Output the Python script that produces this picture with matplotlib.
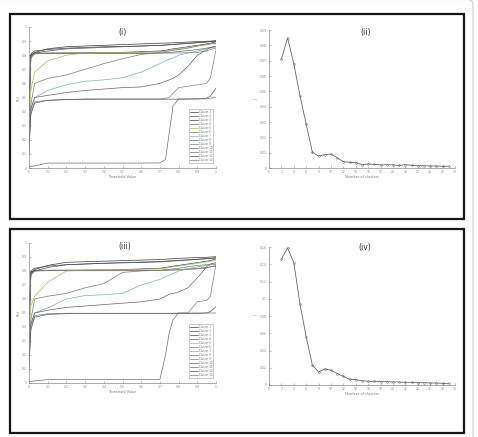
import matplotlib
matplotlib.use("Agg")
import matplotlib.pyplot as plt
from matplotlib.patches import Rectangle, FancyBboxPatch

W, H = 478, 437

# ---------------- data ----------------
thr = [0, 0.01, 0.03, 0.1, 0.2, 0.3, 0.4, 0.5, 0.6, 0.7, 0.73, 0.75, 0.77, 0.8, 0.85, 0.9, 0.95, 0.97, 1.0]
cluster_labels = ["Cluster %d" % k for k in range(1, 14)]

# panel (i)
c1_i = [0.40, 0.80, 0.82, 0.845, 0.86, 0.865, 0.87, 0.875, 0.88, 0.885, 0.886, 0.887, 0.888, 0.89, 0.893, 0.896, 0.899, 0.90, 0.903]
c2_i = [0.35, 0.79, 0.815, 0.83, 0.845, 0.85, 0.855, 0.86, 0.865, 0.87, 0.872, 0.874, 0.876, 0.878, 0.883, 0.888, 0.893, 0.896, 0.90]
c3_i = [0.45, 0.80, 0.815, 0.815, 0.816, 0.817, 0.818, 0.82, 0.825, 0.83, 0.835, 0.84, 0.845, 0.85, 0.86, 0.87, 0.88, 0.885, 0.895]
c4_i = [0.42, 0.78, 0.81, 0.812, 0.812, 0.812, 0.812, 0.812, 0.812, 0.815, 0.818, 0.82, 0.822, 0.826, 0.833, 0.84, 0.85, 0.855, 0.86]
c5_i = [0.30, 0.55, 0.68, 0.76, 0.80, 0.815, 0.82, 0.82, 0.82, 0.825, 0.83, 0.835, 0.84, 0.845, 0.855, 0.865, 0.875, 0.88, 0.885]
c6_i = [0.25, 0.45, 0.60, 0.635, 0.66, 0.70, 0.74, 0.775, 0.805, 0.82, 0.825, 0.83, 0.835, 0.84, 0.85, 0.865, 0.875, 0.88, 0.885]
c7_i = [0.20, 0.42, 0.50, 0.55, 0.59, 0.615, 0.625, 0.64, 0.68, 0.74, 0.76, 0.77, 0.78, 0.80, 0.815, 0.83, 0.845, 0.85, 0.86]
c8_i = [0.20, 0.42, 0.50, 0.515, 0.535, 0.55, 0.56, 0.57, 0.575, 0.60, 0.615, 0.625, 0.635, 0.66, 0.72, 0.80, 0.84, 0.855, 0.865]
c9_i = [0.15, 0.40, 0.47, 0.48, 0.485, 0.49, 0.49, 0.49, 0.49, 0.49, 0.495, 0.50, 0.53, 0.57, 0.58, 0.59, 0.60, 0.64, 0.84]
c10_i = [0.10, 0.38, 0.46, 0.48, 0.485, 0.487, 0.488, 0.488, 0.488, 0.488, 0.488, 0.488, 0.488, 0.488, 0.489, 0.49, 0.495, 0.51, 0.565]
c11_i = [0.01, 0.012, 0.015, 0.035, 0.035, 0.035, 0.035, 0.035, 0.035, 0.036, 0.06, 0.25, 0.44, 0.49, 0.49, 0.49, 0.49, 0.495, 0.50]
c12_i = [0.50, 0.81, 0.83, 0.84, 0.85, 0.855, 0.86, 0.862, 0.865, 0.87, 0.872, 0.875, 0.877, 0.88, 0.885, 0.89, 0.895, 0.897, 0.90]
c13_i = [0.38, 0.79, 0.81, 0.815, 0.815, 0.815, 0.815, 0.815, 0.815, 0.815, 0.815, 0.815, 0.815, 0.816, 0.818, 0.82, 0.83, 0.84, 0.85]

# panel (iii)
c1_iii = [0.40, 0.79, 0.81, 0.84, 0.862, 0.866, 0.87, 0.874, 0.878, 0.882, 0.884, 0.886, 0.888, 0.89, 0.893, 0.896, 0.898, 0.90, 0.902]
c2_iii = [0.35, 0.78, 0.80, 0.825, 0.845, 0.85, 0.855, 0.86, 0.864, 0.868, 0.87, 0.872, 0.874, 0.876, 0.88, 0.884, 0.888, 0.89, 0.893]
c3_iii = [0.45, 0.79, 0.805, 0.806, 0.806, 0.807, 0.808, 0.81, 0.815, 0.82, 0.825, 0.83, 0.835, 0.84, 0.85, 0.86, 0.87, 0.875, 0.886]
c4_iii = [0.42, 0.77, 0.80, 0.802, 0.802, 0.802, 0.802, 0.802, 0.803, 0.805, 0.806, 0.807, 0.808, 0.81, 0.815, 0.82, 0.825, 0.83, 0.833]
c5_iii = [0.30, 0.55, 0.62, 0.72, 0.80, 0.805, 0.81, 0.81, 0.812, 0.815, 0.82, 0.825, 0.83, 0.835, 0.845, 0.855, 0.865, 0.87, 0.875]
c6_iii = [0.25, 0.45, 0.60, 0.62, 0.64, 0.68, 0.71, 0.79, 0.80, 0.805, 0.81, 0.812, 0.815, 0.82, 0.83, 0.84, 0.845, 0.848, 0.85]
c7_iii = [0.20, 0.42, 0.50, 0.536, 0.60, 0.625, 0.63, 0.64, 0.70, 0.74, 0.76, 0.77, 0.78, 0.80, 0.815, 0.83, 0.84, 0.845, 0.85]
c8_iii = [0.20, 0.42, 0.50, 0.52, 0.54, 0.55, 0.56, 0.57, 0.58, 0.60, 0.62, 0.635, 0.64, 0.65, 0.68, 0.75, 0.83, 0.85, 0.86]
c9_iii = [0.15, 0.40, 0.48, 0.495, 0.498, 0.498, 0.498, 0.498, 0.498, 0.498, 0.498, 0.498, 0.498, 0.50, 0.50, 0.58, 0.59, 0.62, 0.85]
c10_iii = [0.10, 0.38, 0.47, 0.49, 0.495, 0.497, 0.497, 0.497, 0.497, 0.497, 0.497, 0.497, 0.497, 0.497, 0.497, 0.497, 0.50, 0.51, 0.545]
c11_iii = [0.01, 0.012, 0.015, 0.024, 0.024, 0.024, 0.024, 0.024, 0.024, 0.025, 0.20, 0.36, 0.45, 0.50, 0.50, 0.50, 0.50, 0.50, 0.50]
c12_iii = [0.50, 0.80, 0.82, 0.835, 0.845, 0.85, 0.855, 0.858, 0.861, 0.865, 0.867, 0.869, 0.871, 0.874, 0.878, 0.883, 0.888, 0.89, 0.895]
c13_iii = [0.38, 0.78, 0.80, 0.805, 0.805, 0.805, 0.805, 0.805, 0.805, 0.805, 0.805, 0.805, 0.806, 0.807, 0.81, 0.815, 0.82, 0.83, 0.84]

curves_i = [c1_i, c2_i, c3_i, c4_i, c5_i, c6_i, c7_i, c8_i, c9_i, c10_i, c11_i, c12_i, c13_i]
curves_iii = [c1_iii, c2_iii, c3_iii, c4_iii, c5_iii, c6_iii, c7_iii, c8_iii, c9_iii, c10_iii, c11_iii, c12_iii, c13_iii]

# panels (ii) and (iv)
n_clusters = list(range(2, 30))
score_ii = [0.071, 0.0848, 0.068, 0.0472, 0.0285, 0.0102, 0.0078, 0.0087, 0.0091, 0.0067,
            0.0041, 0.0037, 0.0035, 0.0022, 0.0026, 0.0024, 0.0020, 0.0022, 0.0020, 0.0017,
            0.0022, 0.0017, 0.0015, 0.0015, 0.0013, 0.0013, 0.0011, 0.0011]
score_iv = [0.146, 0.159, 0.142, 0.0937, 0.0558, 0.0229, 0.0151, 0.0186, 0.0170, 0.0132,
            0.0101, 0.0066, 0.0062, 0.0050, 0.0043, 0.0043, 0.0039, 0.0039, 0.0035, 0.0035,
            0.0031, 0.0031, 0.0027, 0.0027, 0.0023, 0.0023, 0.0019, 0.0019]

line_colors = ["#3a3a3a", "#555555", "#444444", "#666677", "#9cbf6a", "#7a7a7a", "#7fb0b0",
               "#6e6262", "#808090", "#5a5a5a", "#707070", "#4a4a4a", "#8a7f70"]

# ---------------- figure ----------------
fig = plt.figure(figsize=(W / 100, H / 100), dpi=100)
fig.patch.set_facecolor("white")


def rect(l, r, t, b):
    return [l / W, 1 - b / H, (r - l) / W, (b - t) / H]


# outer light frame
fig.add_artist(FancyBboxPatch((-6 / W, -10 / H), 479 / W, 447.5 / H,
                              boxstyle="round,pad=0,rounding_size=0.012",
                              transform=fig.transFigure, fill=False,
                              edgecolor="#cccccc", linewidth=0.8))
# black panel boxes
for (l, t, r, b) in [(10, 14, 464, 219), (10, 229, 464, 433)]:
    fig.add_artist(Rectangle((l / W, 1 - b / H), (r - l) / W, (b - t) / H,
                             transform=fig.transFigure, fill=False,
                             edgecolor="#151515", linewidth=1.6))


def style(ax):
    for s in ("top", "right"):
        ax.spines[s].set_visible(False)
    for s in ("left", "bottom"):
        ax.spines[s].set_color("#888888")
        ax.spines[s].set_linewidth(0.5)
    ax.tick_params(direction="in", length=1.5, width=0.4, labelsize=2.2,
                   colors="#888888", pad=1.5)


def curve_panel(box, curves, title, title_xy):
    ax = fig.add_axes(rect(*box))
    for yv, col, lab in zip(curves, line_colors, cluster_labels):
        ax.plot(thr, yv, color=col, lw=0.5, label=lab)
    ax.set_xlim(0, 1)
    ax.set_ylim(0, 1)
    ax.set_xticks([i / 10 for i in range(11)])
    ax.set_xticklabels(["0", "0.1", "0.2", "0.3", "0.4", "0.5", "0.6", "0.7", "0.8", "0.9", "1"])
    ax.set_yticks([i / 10 for i in range(11)])
    ax.set_yticklabels(["0", "0.1", "0.2", "0.3", "0.4", "0.5", "0.6", "0.7", "0.8", "0.9", "1"])
    style(ax)
    ax.set_xlabel("Threshold Value", fontsize=2.5, color="#777777", labelpad=1)
    ax.set_ylabel("F(t)", fontsize=2.5, color="#777777", labelpad=1)
    leg = ax.legend(loc="lower right", bbox_to_anchor=(0.985, 0.035), fontsize=1.9,
                    labelspacing=0.02, handlelength=3.0, handleheight=0.5,
                    handletextpad=0.5, borderpad=0.3, borderaxespad=0,
                    frameon=True, fancybox=False)
    leg.get_frame().set_linewidth(0.4)
    leg.get_frame().set_edgecolor("#888888")
    for t in leg.get_texts():
        t.set_color("#666666")
    fig.text(title_xy[0] / W, 1 - title_xy[1] / H, title, fontsize=5.5,
             ha="center", va="center", color="#333333")
    return ax


def score_panel(box, yv, ymax, ystep, title, title_xy):
    ax = fig.add_axes(rect(*box))
    ax.plot(n_clusters, yv, color="#666666", lw=0.6, marker="o", ms=1.3,
            mfc="none", mew=0.35)
    ax.set_xlim(0, 30)
    ax.set_ylim(0, ymax)
    ax.set_xticks(list(range(0, 31, 2)))
    n = int(round(ymax / ystep))
    ax.set_yticks([k * ystep for k in range(n + 1)])
    ax.set_yticklabels(["0"] + ["%g" % round(k * ystep, 4) for k in range(1, n + 1)])
    style(ax)
    ax.set_xlabel("Number of clusters", fontsize=2.5, color="#777777", labelpad=1)
    ax.set_ylabel("J", fontsize=2.5, color="#777777", labelpad=1)
    fig.text(title_xy[0] / W, 1 - title_xy[1] / H, title, fontsize=5.5,
             ha="center", va="center", color="#333333")
    return ax


curve_panel((29, 216, 27, 168), curves_i, "(i)", (123, 32))
score_panel((269, 455, 30, 168), score_ii, 0.09, 0.01, "(ii)", (366, 32))
curve_panel((29, 216, 243, 383), curves_iii, "(iii)", (125, 247))
score_panel((269, 455, 247, 385), score_iv, 0.16, 0.02, "(iv)", (365, 248))

fig.savefig("out.png", dpi=100, facecolor="white")
